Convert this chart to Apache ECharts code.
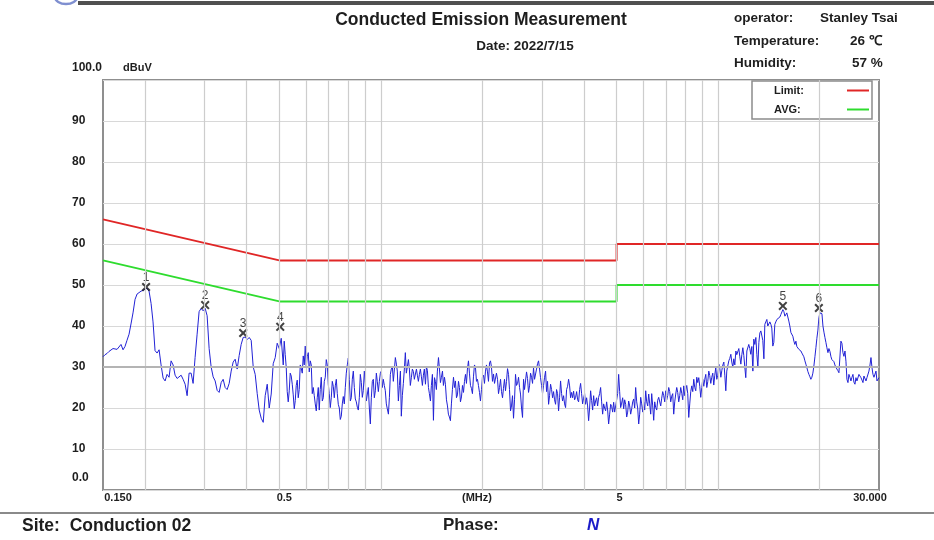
<!DOCTYPE html>
<html>
<head>
<meta charset="utf-8">
<script src="https://cdn.jsdelivr.net/npm/echarts@6/dist/echarts.min.js"></script>
<style>
html,body{margin:0;padding:0;background:#fff;}
#chart{width:934px;height:540px;}
</style>
</head>
<body>
<div id="chart"></div>
<script>
// ---------- DATA ----------
// Measured trace, part A (frequency in MHz, level in dBuV)
const freqMHz = [
0.1500,0.1521,0.1542,0.1563,0.1584,
0.1606,0.1628,0.1651,0.1673,0.1696,
0.1720,0.1743,0.1767,0.1792,0.1816,
0.1841,0.1867,0.1893,0.1919,0.1945,
0.1972,0.1999,0.2026,0.2054,0.2083,
0.2111,0.2140,0.2170,0.2200,0.2230,
0.2261,0.2292,0.2323,0.2355,0.2388,
0.2421,0.2454,0.2488,0.2522,0.2557,
0.2592,0.2628,0.2664,0.2700,0.2738,
0.2775,0.2813,0.2852,0.2891,0.2931,
0.2972,0.3013,0.3054,0.3096,0.3139,
0.3182,0.3226,0.3270,0.3315,0.3361,
0.3407,0.3454,0.3501,0.3550,0.3599,
0.3648,0.3698,0.3749,0.3801,0.3853,
0.3906,0.3960,0.4015,0.4070,0.4126,
0.4183,0.4240,0.4299,0.4358,0.4418,
0.4479,0.4540,0.4603,0.4666,0.4730,
0.4795,0.4861,0.4928,0.4996,0.5065,
0.5135,0.5205,0.5277,0.5350,0.5423,
0.5498,0.5574,0.5650,0.5728,0.5807,
0.5887,0.5968,0.6050,0.6134,0.6218,
0.6304,0.6390,0.6478,0.6567,0.6658,
0.6750,0.6842,0.6937,0.7032,0.7129,
0.7227,0.7327,0.7427,0.7530,0.7633,
0.7738,0.7845,0.7953,0.8062,0.8173,
0.8286,0.8400,0.8516,0.8633,0.8752,
0.8872,0.8994,0.9118,0.9244,0.9371,
0.9500,0.9631,0.9763,0.9898,1.0034,
1.017,1.031,1.045,1.060,1.074,
1.089,1.104,1.119,1.135,1.150,
1.166,1.182,1.199,1.215,1.232,
1.249,1.266,1.283,1.301,1.319,
1.337,1.356,1.374,1.393,1.412,
1.432,1.451,1.471,1.492,1.512,
1.533,1.554,1.576,1.597,1.619,
1.642,1.664,1.687,1.710,1.734,
1.758,1.782,1.806,1.831,1.856,
1.882,1.908,1.934,1.961,1.988,
2.015,2.043,2.071,2.100,2.128,
2.158,2.187,2.218,2.248,2.279,
2.310,2.342,2.375,2.407,2.440,
2.474,2.508,2.543,2.578,2.613,
2.649,2.685,2.722,2.760,2.798,
2.836,2.875,2.915,2.955,2.996,
3.037,3.079,3.121,3.164,3.208,
3.252,3.297,3.342,3.388,3.435,
3.482,3.530,3.579,3.628,3.678,
3.728,3.780,3.832,3.885,3.938,
3.992,4.047,4.103,4.159,4.217,
4.275,4.334,4.393,4.454,4.515,
4.577,4.640,4.704,4.769,4.834,
4.901,4.969,5.037,5.106,5.177,
5.248,5.320,5.393,5.468,5.543,
5.619,5.696,5.775,5.854,5.935,
6.017,6.100,6.184,6.269,6.355,
6.442,6.531,6.621,6.712,6.805,
6.898,6.993,7.090,7.187,7.286,
7.386,7.488,7.591,7.696,7.802,
7.909,8.018,8.128,8.240,8.354,
8.469,8.585,8.703,8.823,8.945,
9.068,9.193,9.319,9.447,9.577,
9.709,9.843,9.979,10.12,10.26,
10.40,10.54,10.68,10.83,10.98,
11.13,11.29,11.44,11.60,11.76,
11.92,12.08,12.25,12.42,12.59,
12.76,12.94,13.12,13.30,13.48,
13.67,13.85,14.04,14.24,14.43,
14.63,14.83,15.04,15.25,15.46,
15.67,15.88,16.10,16.32,16.55,
16.78,17.01,17.24,17.48,17.72,
17.96,18.21,18.46,18.72,18.97,
19.23,19.50,19.77,20.04,20.32,
20.60,20.88,21.17,21.46,21.75,
22.05,22.36,22.66,22.98,23.29,
23.61,23.94,24.27,24.60,24.94,
25.28,25.63,25.99,26.34,26.71,
27.07,27.45,27.82,28.21,28.60,
28.99,29.39,29.79,30.00
];
const levelDbuV = [
32.5,33,33.3,33.8,34.2,
34.5,34.7,34.3,34.6,35.5,
34.2,35,36.5,38,40.5,
43.2,46.5,47.8,48.2,48.5,
48.7,48.8,49.2,48.5,45.5,
41,34,33.4,34.2,30.5,
27.3,26.6,28.2,27.5,31.5,
30.5,28,27.2,27,28,
27,25.8,23,28.5,28.5,
26,32.3,38,43.5,44.3,
43.7,44.3,42.5,34.5,30,
27.6,26.6,24.3,23.8,26.2,
27,25,24.5,26,29,
31.2,31.9,29.5,32.8,35.5,
37.2,37.3,36.7,37.2,36.5,
30,28.2,23.5,19.5,17.5,
16.5,23,25.8,20,23.4,
30.8,32.3,35.8,34.5,37,
30.5,33,24,24.2,27.8,
23.2,21.8,26.8,24.5,29.7,
32.7,35.1,32.5,28.8,30.5,
25,21,22.5,19.5,27.5,
22.5,27.5,30.5,23.5,22.5,
25.3,25.4,23.5,20,18,
22.8,25,30.5,27,22.5,
29,22.2,20.2,22.5,26.2,
24.3,25.8,22,20,22.5,
27,24.2,26.4,26.5,29,
27,24.2,19.8,22.5,29.5,
26.5,32.3,29,25.5,18,
26,33.5,30.2,29.5,27.5,
28.9,26.6,28,28.2,27.6,
28,25.8,29.2,23.5,25.5,
17,26.5,29,29.5,27.5,
25.5,25.8,20.5,17.8,21,
27.5,26.6,23.2,25,22.7,
23.8,28.2,29.5,28.5,24.8,
27.6,29.9,27,23.8,24.5,
28,29,28.8,31,30,
28.3,25.8,27,25,24,
24.8,24.2,29.6,24.5,20.5,
17.5,28.2,26,25,20,
27,26.6,27.2,25.4,27.5,
29.8,26.6,30.8,29.5,25.5,
25.5,29,26.5,23,24.5,
24,20.9,23.5,22.5,23.5,
23,20.1,25.3,25.4,23.8,
24.1,22.6,22,24.5,23.5,
22.4,20.9,20.5,20,21.8,
23,21.7,20.5,23.5,21.5,
21,19.3,19.5,18.5,20.4,
21.4,19.3,23.5,24,21.2,
19.8,20.9,19,20.5,19.8,
22.2,25,20,18.5,21,
21.4,24.2,20.5,21,23.5,
17,20.1,21.9,23,22.4,
23,24.2,23,24,22.9,
18.5,23.4,23.8,23,23.6,
25.4,23.4,23.5,21,25.4,
27,24.2,26.2,25.3,25,
25.3,28.2,26.4,27.9,27.5,
25.6,29.9,28,29.6,29.2,
31.2,24.2,30.2,32.1,31.2,
32,33.9,33.2,32.5,33,
32.8,27.4,34.2,34.5,35,
36.8,37.2,30,38.3,38.4,
32,41,40,41,39.5,
36,41,41.8,42.2,43,
43.5,42,42.8,40,38.6,
36.3,36.3,34.6,34.1,33.4,
32.5,30.7,28.9,27.6,27.5,
30.2,34.7,39,43.2,43,
38.5,36,33.5,33.8,31.8,
31.3,29.9,29.1,28.4,35.8,
32.6,31.4,26.2,27.5,27.5,
26.3,27.4,26.9,27.8,26.8,
27.8,26.6,27.5,30.5,29.8,
27.5,29,26.9,27.4
];
// Measured trace, part B (interleaved sweep points above 0.5 MHz)
const freqMHzB = [
0.5170,0.5241,0.5313,0.5386,0.5461,
0.5536,0.5612,0.5689,0.5768,0.5847,
0.5927,0.6009,0.6092,0.6176,0.6261,
0.6347,0.6434,0.6523,0.6612,0.6704,
0.6796,0.6889,0.6984,0.7080,0.7178,
0.7277,0.7377,0.7478,0.7581,0.7686,
0.7792,0.7899,0.8008,0.8118,0.8229,
0.8343,0.8458,0.8574,0.8692,0.8812,
0.8933,0.9056,0.9181,0.9307,0.9435,
0.9565,0.9697,0.9830,0.9966,1.0103,
1.024,1.038,1.053,1.067,1.082,
1.097,1.112,1.127,1.143,1.158,
1.174,1.190,1.207,1.223,1.240,
1.257,1.275,1.292,1.310,1.328,
1.346,1.365,1.384,1.403,1.422,
1.442,1.461,1.482,1.502,1.523,
1.544,1.565,1.586,1.608,1.630,
1.653,1.676,1.699,1.722,1.746,
1.770,1.794,1.819,1.844,1.869,
1.895,1.921,1.947,1.974,2.001,
2.029,2.057,2.085,2.114,2.143,
2.173,2.202,2.233,2.264,2.295,
2.326,2.358,2.391,2.424,2.457,
2.491,2.525,2.560,2.595,2.631,
2.667,2.704,2.741,2.779,2.817,
2.856,2.895,2.935,2.975,3.016,
3.058,3.100,3.143,3.186,3.230,
3.274,3.319,3.365,3.411,3.458,
3.506,3.554,3.603,3.653,3.703,
3.754,3.806,3.858,3.911,3.965,
4.020,4.075,4.131,4.188,4.246,
4.304,4.363,4.423,4.484,4.546,
4.609,4.672,4.736,4.802,4.868,
4.935,5.003,5.071,5.141,5.212,
5.284,5.357,5.430,5.505,5.581,
5.658,5.736,5.815,5.895,5.976,
6.058,6.141,6.226,6.312,6.399,
6.487,6.576,6.666,6.758,6.851,
6.946,7.041,7.138,7.236,7.336,
7.437,7.539,7.643,7.748,7.855,
7.963,8.073,8.184,8.297,8.411,
8.527,8.644,8.763,8.884,9.006,
9.130,9.256,9.383,9.512,9.643,
9.776,9.911,10.05,10.19,10.33,
10.47,10.61,10.76,10.91,11.06,
11.21,11.36,11.52,11.68,11.84,
12.00,12.17,12.33,12.50,12.68,
12.85,13.03,13.21,13.39,13.57,
13.76,13.95,14.14,14.34,14.53,
14.73,14.94,15.14,15.35,15.56,
15.78,15.99,16.21,16.44,16.66,
16.89,17.12,17.36,17.60,17.84,
18.09,18.34,18.59,18.84,19.10,
19.37,19.63,19.90,20.18,20.46,
20.74,21.02,21.31,21.61,21.90,
22.20,22.51,22.82,23.13,23.45,
23.78,24.10,24.43,24.77,25.11,
25.46,25.81,26.16,26.52,26.89,
27.26,27.63,28.01,28.40,28.79,
29.19,29.59
];
const levelDbuVB = [
36.3,29.9,21.5,28.5,25.8,
19.8,25.5,22.5,30.5,28.5,
30.5,29.9,33.5,31.5,23.5,
23,19.3,25,24.5,21.7,
26.5,31.8,25.8,20.1,26.5,
22.5,27,20.9,17.2,21,
21,28.5,32.2,21.7,27,
25,21.5,19.5,28.2,22.6,
29,21.7,25,16.1,26.5,
22.5,28.5,24,28.5,25,
25.5,21,18.5,28.2,30,
29.5,30.7,21.7,29,23,
29.5,28.5,31.8,25.5,29.5,
27,29.5,26.5,29.5,25.5,
29.5,30,25,21.7,28.2,
27.4,24.5,32.3,26.2,29,
27.5,22,18.5,16.9,24.5,
25,22.5,26.5,21.5,25.5,
26.5,26,31.5,25.5,23.5,
30.5,26.5,25.5,21.7,27.5,
26,30.5,26.5,31.5,26.5,
26,28.5,23.5,27,22.5,
27,26.5,28.2,19.3,23,
22,25.5,27.5,23.4,17.7,
24.5,28.8,23.8,28.5,26,
27,29.5,31.5,27.4,23.5,
27.5,24,20.9,25.8,22.5,
22,24.5,19.3,26.6,21.7,
21,24.5,27,22.5,22.5,
22,24,21.5,26,21,
23.5,22.5,16.9,24.2,19.5,
20.5,22.5,22.6,25,18.5,
20,21.5,16.1,20.9,19,
19,22,28.2,20.1,22.5,
22,17.8,21.7,18.5,21.5,
20,21.5,16.1,22.6,19,
19.5,21.5,23.4,18.5,20.5,
21.5,19.5,22.6,20.5,24,
21.5,22,25,21.5,23.5,
21.5,25,21.5,25,22,
23,25.5,17.7,24,24,
25,27.5,27.4,22.6,27,
27,25,29,26,28.5,
28,27,30.7,27.5,30.5,
28,29,31.5,33.1,29.9,
30.5,33,34.5,30.7,34.7,
30,33.9,35.5,33.1,29,
35.5,33,36,38.8,36.5,
40.4,41.6,39.6,40.4,35.1,
40.4,41.6,42,42.8,44,
42.4,43.2,41.2,38.4,37.5,
35.5,35,34.3,33.9,33.1,
31.5,29.8,28.2,27,28.5,
32.5,37,42,43.6,40,
37.2,34.7,34.5,32.5,31.5,
30.5,29.5,28.6,36.3,33.5,
33.9,27,28.2,26.6,28.2,
25.8,26.6,28.2,27.4,26.2,
28.2,27.4,29,32.3,28.2,
27.4,26.6
];

// Limit lines
const limitFreq  = [0.15, 0.5, 5, 5, 30];
const limitLevel = [66, 56, 56, 60, 60];
const avgLevel   = [56, 46, 46, 50, 50];

// Peak markers
const markerFreq  = [0.2013, 0.3013, 0.3906, 0.5031, 15.56, 19.90];
const markerLevel = [49.5, 45.1, 38.3, 39.8, 44.9, 44.4];
const markerLabel = ['1', '2', '3', '4', '5', '6'];

// Axis ticks
const gridFreq   = [0.2,0.3,0.4,0.5,0.6,0.7,0.8,0.9,1,2,3,4,5,6,7,8,9,10,20];
const xTickFreq  = [0.15, 0.5, 5, 30];
const xTickText  = ['0.150', '0.5', '5', '30.000'];
const yTickMin = 0, yTickMax = 100, yTickStep = 10;

// ---------- LAYOUT CONSTANTS ----------
const FONT = '"Liberation Sans", Arial, sans-serif';
const TXT = '#1e1e1e';
const xTickLabelPad = [[0,0,0,30],[0,0,0,10],[0,0,0,6],[0,18,0,0]];

const chart = echarts.init(document.getElementById('chart'), null, {renderer: 'canvas'});

const traceData = freqMHz.map((f, i) => [f, levelDbuV[i]])
  .concat(freqMHzB.map((f, i) => [f, levelDbuVB[i]]))
  .sort((a, b) => a[0] - b[0]);
const limitData = limitFreq.map((f, i) => [f, limitLevel[i]]);
const avgData   = limitFreq.map((f, i) => [f, avgLevel[i]]);
const markerData = markerFreq.map((f, i) => ({value: [f, markerLevel[i]], label: {formatter: markerLabel[i]}}));

function txt(text, left, top, size, extra) {
  return Object.assign({
    text: text, left: left, top: top, padding: 0,
    textStyle: Object.assign({fontSize: size, fontWeight: 'bold', fontFamily: FONT, color: TXT}, (extra && extra.ts) || {})
  }, (extra && extra.opt) || {});
}

const option = {
  backgroundColor: '#ffffff',
  animation: false,
  title: [
    txt('Conducted Emission Measurement', 481, 11, 17.5, {opt: {textAlign: 'center'}}),
    txt('Date: 2022/7/15', 525, 39, 13.5, {opt: {textAlign: 'center'}}),
    txt('operator:', 734, 11, 13.5),
    txt('Stanley Tsai', 820, 11, 13.5),
    txt('Temperature:', 734, 34, 13.5),
    txt('26 \u2103', 850, 34, 13.5),
    txt('Humidity:', 734, 56, 13.5),
    txt('57 %', 852, 56, 13.5),
    txt('Site:  Conduction 02', 22, 517, 17.5),
    txt('Phase:', 443, 517, 17),
    txt('N', 587, 517, 17, {ts: {fontStyle: 'italic', color: '#1c1cc8'}})
  ],
  graphic: [
    {type: 'rect', shape: {x: 78, y: 1, width: 856, height: 4}, style: {fill: '#505050'}},
    {type: 'ellipse', shape: {cx: 66, cy: -3, rx: 11, ry: 7}, style: {fill: 'none', stroke: '#7f8fd0', lineWidth: 2.5}},
    {type: 'line', shape: {x1: 0, y1: 513, x2: 934, y2: 513}, style: {stroke: '#8a8a8a', lineWidth: 2}}
  ],
  legend: {
    data: ['Limit', 'AVG'],
    orient: 'vertical',
    right: 62, top: 81,
    align: 'right',
    icon: 'rect',
    itemWidth: 22, itemHeight: 2,
    itemGap: 8,
    padding: [4, 3, 4, 22],
    backgroundColor: '#ffffff',
    borderColor: '#8c8c8c', borderWidth: 1.5,
    formatter: function (name) { return '{t|' + name + ':}'; },
    selectedMode: false,
    textStyle: {
      fontSize: 11, fontWeight: 'bold', fontFamily: FONT, color: TXT,
      rich: {t: {width: 68, align: 'left', fontSize: 11, fontWeight: 'bold', fontFamily: FONT, color: TXT}}
    }
  },
  grid: {
    left: 103, right: 55, top: 80, bottom: 50,
    show: true, backgroundColor: '#ffffff',
    borderColor: '#8f8f8f', borderWidth: 2
  },
  xAxis: {
    type: 'log', logBase: 10, min: 0.15, max: 30,
    axisLine: {show: false}, axisTick: {show: false}, axisLabel: {show: false},
    splitLine: {show: false}, minorTick: {show: false}, minorSplitLine: {show: false},
    name: '(MHz)', nameLocation: 'middle', nameGap: 2,
    nameTextStyle: {fontSize: 11, fontWeight: 'bold', fontFamily: FONT, color: TXT, padding: [0, 28, 0, 0]}
  },
  yAxis: {
    type: 'value', min: yTickMin, max: yTickMax, interval: yTickStep,
    axisLine: {show: false}, axisTick: {show: false},
    splitLine: {show: true, lineStyle: {color: '#d8d8d8', width: 1}},
    axisLabel: {
      align: 'left', margin: 31,
      fontSize: 12, fontWeight: 'bold', fontFamily: FONT, color: TXT,
      formatter: function (v) {
        if (v === yTickMax || v === yTickMin) return '{e|' + v.toFixed(1) + '}';
        return String(v);
      },
      rich: {e: {padding: [0, 0, 24, 0], fontSize: 12, fontWeight: 'bold', fontFamily: FONT, color: TXT}}
    },
    name: 'dBuV', nameLocation: 'end', nameGap: 12,
    nameTextStyle: {align: 'left', verticalAlign: 'middle', padding: [0, 0, 0, 20], fontSize: 11, fontWeight: 'bold', fontFamily: FONT, color: TXT}
  },
  series: [
    {
      name: 'grid', type: 'line', data: [], z: 1, silent: true,
      markLine: {
        silent: true, symbol: ['none', 'none'], animation: false,
        label: {show: false},
        lineStyle: {color: '#cdcdcd', width: 1.2, type: 'solid'},
        emphasis: {disabled: true},
        data: gridFreq.map(f => ({xAxis: f})).concat([{yAxis: 30, lineStyle: {color: '#b4b4b4', width: 2, type: 'solid'}}])
      }
    },
    {
      name: 'ticks', type: 'line', data: [], z: 1, silent: true,
      markLine: {
        silent: true, symbol: ['none', 'none'], animation: false,
        lineStyle: {color: 'rgba(0,0,0,0)', width: 1},
        emphasis: {disabled: true},
        label: {show: true, position: 'start', distance: 2, fontSize: 11, fontWeight: 'bold', fontFamily: FONT, color: TXT},
        data: xTickFreq.map((f, i) => ({xAxis: f, label: {show: true, formatter: xTickText[i], padding: xTickLabelPad[i], color: TXT}}))
      }
    },
    {
      name: 'Limit', type: 'line', data: limitData, z: 2, showSymbol: false, symbol: 'none',
      lineStyle: {color: '#e02626', width: 2}, itemStyle: {color: '#e02626'}, silent: true
    },
    {
      name: 'AVG', type: 'line', data: avgData, z: 2, showSymbol: false, symbol: 'none',
      lineStyle: {color: '#2edc2e', width: 2}, itemStyle: {color: '#2edc2e'}, silent: true
    },
    {
      name: 'Trace', type: 'line', data: traceData, z: 3, showSymbol: false, symbol: 'none',
      sampling: null, lineStyle: {color: '#2222d6', width: 1}, itemStyle: {color: '#2222d6'}, silent: true
    },
    {
      name: 'Peaks', type: 'scatter', data: markerData, z: 4, silent: true,
      symbol: 'path://M0,1.6L1.6,0L5,3.4L8.4,0L10,1.6L6.6,5L10,8.4L8.4,10L5,6.6L1.6,10L0,8.4L3.4,5Z',
      symbolSize: 9,
      itemStyle: {color: '#111111'},
      label: {show: true, position: 'top', distance: -1, fontSize: 12, fontFamily: FONT, color: '#111'}
    }
  ]
};

chart.setOption(option);
</script>
</body>
</html>
